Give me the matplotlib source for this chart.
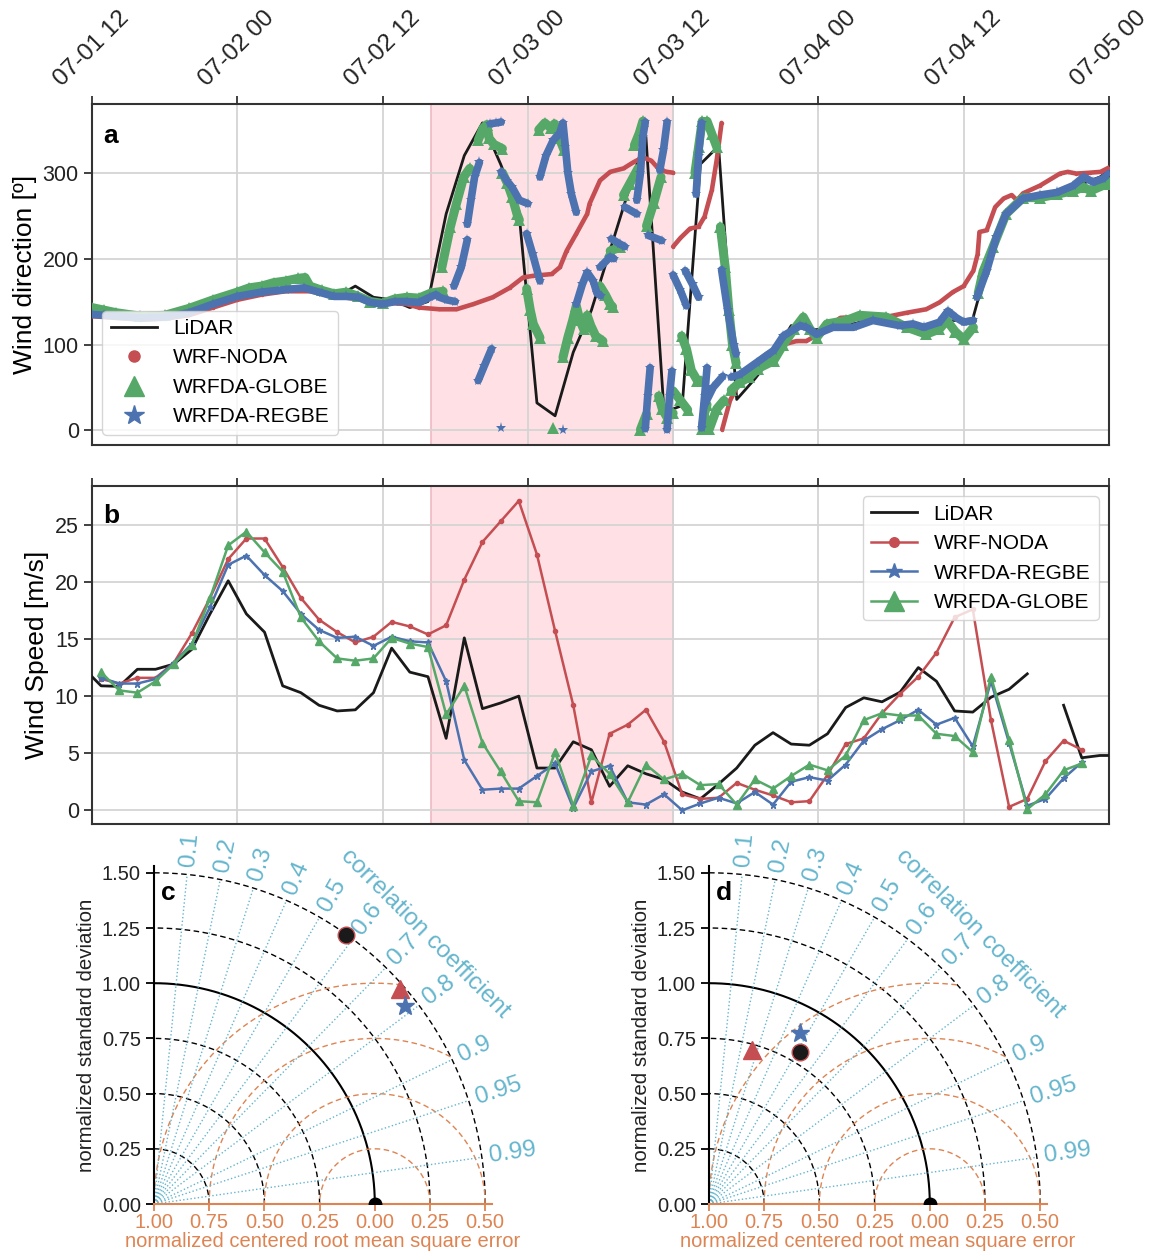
import numpy as np
import matplotlib
matplotlib.use('Agg')
import matplotlib.pyplot as plt
from matplotlib.lines import Line2D

plt.rcParams['font.family'] = ['Liberation Sans', 'DejaVu Sans']

nan = np.nan

# ---- time axis (hours since 07-01 12:00) ----
tick_hours = [0, 12, 24, 36, 48, 60, 72, 84]
tick_labels = ['07-01 12', '07-02 00', '07-02 12', '07-03 00',
               '07-03 12', '07-04 00', '07-04 12', '07-05 00']
shade_span = (28, 48)

# LiDAR / model sampling, every 1.5 h
obs_hours = np.arange(-0.75, 85, 1.5)
mod_hours = obs_hours[1:56]

# ---- wind direction (panel a) ----
lidar_dir = [140, 138, 133, 130, 130, 133, 138, 145, 152, 158, 162, 164, 165,
             160, 156, 168, 155, 152, 143, 150, 252, 320, 358, 310, 256, 32,
             17, 91, 140, 208, 276, 342, 21, 29, 310, 331, 36, 60, 87, 122,
             117, 118, 122, 127, 128, 121, 112, 124, 128, 130, 207, 256, 273,
             276, 278, 287, 295, 310]

noda_dir_hours = [0, 2, 4, 6, 8, 10, 12, 14, 16, 18, 20, 22, 24, 26, 27,
                  28.7, 30.1, 31.5, 33.1, 34.5, 35.6, 36.45, 37.97, 38.65, 39.2,
                  40.0, 40.9, 41.1, 41.96, 42.8, 43.9, 44.7, 45.5, 46.2, 46.9,
                  47.5, 48.0, nan,
                  48.0, 48.6, 49.4, 50.1, 50.6, 51.2, 51.6, 52.0, nan,
                  52.05, 52.7, 53.5, 54.35, 55.7, 57.1, 58.2, 59.0, 60.0, 61.0,
                  61.8, 63.0, 64.5, 65.9, 67.3, 68.9, 70.0, 71.1, 72.0, 72.8,
                  73.15, 73.3, 73.9, 74.6, 75.3, 75.96, 76.4, 76.9, 78.3, 79.95,
                  80.6, 81.3, 82.4, 83.3, 84.0]
noda_dir = [133, 131, 129, 130, 134, 143, 152, 158, 162, 162, 156, 153, 149, 147, 143,
            141, 141, 147, 155, 166, 178, 180, 182, 190, 209,
            229, 252, 264, 291, 301, 305, 312, 318, 314, 303,
            301, 300, nan,
            214, 224, 235, 237, 249, 280, 315, 358, nan,
            1, 35, 56, 74, 89, 100, 104, 104, 112, 122,
            131, 132, 130, 133, 137, 141, 149, 161, 168, 186,
            205, 231, 233, 260, 270, 274, 268, 276, 285, 299,
            301, 299, 300, 301, 306]

globe_dir_hours = [0, 1, 2, 4, 6, 8, 10, 12, 13, 14, 15, 16, 17, 17.6, 18, 19,
                   20, 21, 22, 23, 24, 25, 26, 27, 28, 29.0, nan,
                   28.9, 29.6, 30.1, 30.7, 31.2, nan,
                   31.9, 32.3, 32.6, 32.8, 33.2, 33.9, nan,
                   33.9, 34.3, 34.7, 35.1, 35.3, nan,
                   35.9, 36.2, 36.45, 37.0, nan,
                   38.05, nan,
                   36.9, 37.4, 37.9, 38.2, 38.6, 39.0, nan,
                   38.9, 39.3, 39.7, 40.0, 40.3, 40.6, 40.9, 41.2, 41.6, 42.2, nan,
                   41.96, 42.4, 42.8, 43.0, nan,
                   42.8, 43.6, nan,
                   43.9, 44.4, 45.1, nan,
                   44.8, 45.2, 45.5, nan,
                   45.3, 45.8, nan,
                   45.8, 46.4, 47.0, nan,
                   46.8, 47.1, 47.5, 48.0, nan,
                   48.0, 48.6, 49.2, nan,
                   48.7, 49.1, 49.5, 50.0, 50.3, nan,
                   49.8, 50.1, 50.4, nan,
                   50.4, 50.6, 50.8, nan,
                   50.8, 51.2, 51.6, nan,
                   51.0, 51.6, 52.2, nan,
                   51.9, 52.3, 52.6, 52.9, 53.2, nan,
                   52.8, 53.5, 54.3, 55.0, 56.3, 57.1, 58.0, 58.75, 59.3, 59.85,
                   60.7, 62.3, 63.4, 65.6, 67.3, 68.9, 70.0, 70.6, 71.3, 72.0,
                   72.8, nan,
                   73.2, 73.6, 74.4, 75.5, 76.9, 78.3, 79.7, 81.05, 81.9, 82.5,
                   83.8, 84.0]
globe_dir = [143, 140, 137, 133, 134, 142, 152, 161, 166, 168, 172, 174, 177, 178, 168, 163,
             159, 161, 156, 150, 148, 153, 155, 154, 160, 162, nan,
             190, 237, 264, 295, 305, nan,
             338, 352, 356, 340, 333, 328, nan,
             300, 288, 272, 252, 245, nan,
             165, 140, 124, 108, nan,
             3, nan,
             350, 358, 352, 357, 340, 326, nan,
             85, 108, 128, 145, 128, 118, 134, 122, 110, 104, nan,
             168, 158, 147, 144, nan,
             209, 213, nan,
             274, 287, 305, nan,
             332, 346, 360, nan,
             1, 19, nan,
             238, 265, 295, nan,
             40, 25, 15, 20, nan,
             46, 35, 24, nan,
             110, 95, 70, 58, 58, nan,
             300, 330, 360, nan,
             2, 20, 30, nan,
             360, 345, 330, nan,
             2, 25, 35, nan,
             237, 190, 140, 100, 78, nan,
             47, 56, 62, 72, 81, 100, 118, 132, 118, 108,
             124, 128, 134, 132, 120, 112, 118, 128, 115, 106,
             120, nan,
             160, 185, 213, 252, 271, 271, 275, 279, 283, 279,
             287, 289]

regbe_dir_hours = [0, 1, 2, 4, 6, 8, 10, 12, 14, 16, 17.5, 19, 20, 21, 22, 23,
                   24, 25, 26, 27, 27.9, 28.4, 28.7, 29.3, 30.0, nan,
                   29.9, 30.5, 31.0, nan,
                   31.0, 31.3, 31.6, 32.0, nan,
                   31.9, 32.4, 33.0, nan,
                   32.9, 33.4, 33.8, nan,
                   33.8, nan,
                   33.8, 34.3, 34.7, 35.3, 36.0, nan,
                   35.9, 36.4, 37.0, nan,
                   37.0, 37.5, 38.1, 38.6, 38.9, 39.1, 39.3, 39.6, 40.0, nan,
                   38.9, nan,
                   40.0, 40.5, 40.9, 41.4, 41.7, 42.0, nan,
                   41.96, 42.8, 43.1, nan,
                   42.9, 43.6, 44.0, nan,
                   44.0, 45.0, nan,
                   45.0, 45.3, 45.5, 45.7, nan,
                   45.7, 45.9, 46.1, nan,
                   45.95, 47.05, nan,
                   46.9, 47.2, 47.5, nan,
                   47.5, 47.7, 47.9, nan,
                   48.0, 48.6, 49.1, nan,
                   49.0, 49.6, 50.1, nan,
                   49.9, 50.1, 50.35, nan,
                   50.35, 50.6, 50.8, nan,
                   50.6, 51.3, 52.1, nan,
                   52.0, 52.5, 53.0, 53.2, nan,
                   52.8, 53.5, 54.9, 56.3, 57.1, 58.5, 59.0, 59.85, 61.2, 62.9,
                   64.5, 66.7, 67.8, 68.7, 70.0, 70.7, 71.4, 72.0, 72.8, nan,
                   73.1, 73.9, 74.7, 75.5, 76.9, 78.3, 79.7, 81.05, 81.9, 82.7,
                   83.5, 84.0]
regbe_dir = [135, 134, 133, 131, 132, 137, 147, 156, 161, 164, 166, 160, 156, 156, 155, 149,
             147, 150, 150, 149, 155, 158, 155, 152, 150, nan,
             168, 190, 222, nan,
             240, 268, 295, 312, nan,
             58, 75, 95, nan,
             357, 358, 359, nan,
             3, nan,
             301, 290, 283, 268, 264, nan,
             229, 205, 174, nan,
             295, 320, 338, 345, 358, 330, 300, 275, 254, nan,
             1, nan,
             147, 170, 184, 174, 160, 157, nan,
             190, 202, 200, nan,
             223, 217, 214, nan,
             260, 252, nan,
             268, 300, 342, 359, nan,
             2, 40, 73, nan,
             227, 221, nan,
             303, 326, 359, nan,
             1, 40, 69, nan,
             181, 163, 145, nan,
             186, 170, 155, nan,
             275, 320, 358, nan,
             3, 40, 73, nan,
             30, 50, 63, nan,
             187, 140, 100, 89, nan,
             62, 65, 79, 93, 110, 122, 120, 112, 120, 120,
             128, 122, 124, 120, 126, 139, 131, 126, 128, nan,
             155, 186, 225, 252, 270, 274, 277, 285, 295, 289,
             293, 299]

# ---- wind speed (panel b) ----
lidar_spd = [12.5, 10.9, 10.85, 12.35, 12.35, 12.8, 14.1, 17.2, 20.1, 17.2, 15.6,
             10.9, 10.3, 9.2, 8.7, 8.8, 10.3, 14.2, 12.1, 11.7, 6.3, 15.1, 8.9,
             9.4, 10.0, 3.7, 3.7, 6.0, 5.3, 2.1, 3.9, 3.2, 2.7, 1.6, 1.0, 2.3,
             3.7, 5.7, 6.8, 5.8, 5.7, 6.7, 9.0, 9.85, 9.5, 10.35, 12.5, 11.3,
             8.7, 8.6, 9.9, 10.6, 11.95, nan, 9.2, 4.6, 4.8, 4.8]
noda_spd = [11.5, 11.1, 11.6, 11.6, 12.9, 15.5, 18.6, 22.0, 23.8, 23.8, 21.3,
            18.6, 16.7, 15.6, 14.7, 15.2, 16.5, 16.1, 15.4, 16.2, 20.2, 23.5,
            25.3, 27.1, 22.4, 15.7, 9.2, 0.7, 6.7, 7.5, 8.8, 6.0, 1.4, 1.0, 1.1,
            2.4, 1.8, 1.3, 0.7, 0.8, 3.1, 5.8, 6.3, 8.5, 10.2, 11.7, 13.8, 16.9,
            17.6, 7.9, 0.3, 1.0, 4.3, 6.1, 5.3]
regbe_spd = [11.6, 11.1, 11.1, 11.5, 12.9, 14.6, 17.8, 21.5, 22.3, 20.6, 19.2,
             17.2, 15.8, 15.1, 15.2, 14.4, 15.2, 14.8, 14.7, 11.3, 4.4, 1.8, 1.9,
             1.9, 3.0, 4.1, 0.2, 3.4, 3.9, 0.7, 0.5, 1.4, 0.0, 0.6, 1.1, 0.6, 1.6,
             0.5, 2.5, 2.9, 2.6, 4.0, 6.1, 7.1, 7.9, 8.8, 7.5, 8.1, 5.6, 11.3,
             5.9, 0.4, 1.0, 2.8, 4.2]
globe_spd = [12.1, 10.5, 10.3, 11.3, 12.8, 14.5, 18.6, 23.2, 24.4, 22.6, 20.9,
             16.9, 14.8, 13.3, 13.1, 13.3, 15.1, 14.6, 14.3, 8.4, 10.9, 5.9, 3.4,
             0.8, 0.7, 5.1, 0.4, 4.8, 3.2, 0.7, 4.0, 2.7, 3.2, 2.2, 2.3, 0.5, 2.7,
             1.9, 3.0, 4.0, 3.5, 4.8, 7.9, 8.5, 8.3, 8.3, 6.7, 6.5, 5.1, 11.7,
             6.2, 0.1, 1.4, 3.5, 4.1]

# ---- Taylor diagrams (normalized std, correlation) ----
corr_ticks = [0.1, 0.2, 0.3, 0.4, 0.5, 0.6, 0.7, 0.8, 0.9, 0.95, 0.99]
std_rings = [0.25, 0.5, 0.75, 1.25, 1.5]
rmse_rings = [0.25, 0.5, 0.75, 1.0]
taylor_ticks = [0, 0.25, 0.5, 0.75, 1.0, 1.25, 1.5]
rmse_ticklabels = ['1.00', '0.75', '0.50', '0.25', '0.00', '0.25', '0.50']
c_std = [1.497, 1.48, 1.449]
c_corr = [0.581, 0.753, 0.785]
d_std = [0.800, 0.725, 0.876]
d_corr = [0.514, 0.270, 0.470]

BLACK = '#1a1a1a'
RED = '#C44E52'
GREEN = '#55A868'
BLUE = '#4C72B0'
ORANGE = '#DD8452'
CYAN = '#64B5CD'
SPINE = '#333333'
GRID = '#d4d4d4'

fig = plt.figure(figsize=(11.5, 12.55), dpi=100)
W, H = 1150.0, 1255.0
ax_a = fig.add_axes([92 / W, 1 - 445 / H, 1017 / W, 341 / H])
ax_b = fig.add_axes([92 / W, 1 - 824 / H, 1017 / W, 338 / H])


def style_timeaxis(ax, labels_on):
    ax.set_xlim(0, 84)
    ax.set_axisbelow(True)
    ax.grid(True, color=GRID, lw=1.3)
    ax.axvspan(*shade_span, facecolor='#ffe1e5', edgecolor='#efb9c1', lw=1.2, zorder=0)
    ax.set_xticks(tick_hours)
    ax.xaxis.set_ticks_position('top')
    if labels_on:
        ax.set_xticklabels(tick_labels, rotation=45, ha='center', fontsize=17.5)
    else:
        ax.set_xticklabels([])
    ax.tick_params(axis='both', direction='out', length=6, width=1.3,
                   color=SPINE, labelcolor='#222222')
    ax.tick_params(axis='y', labelsize=15.5)
    for s in ax.spines.values():
        s.set_color(SPINE)
        s.set_linewidth(1.5)


# panel a
style_timeaxis(ax_a, True)
ax_a.plot(obs_hours, lidar_dir, color=BLACK, lw=2, zorder=3)
ax_a.plot(noda_dir_hours, noda_dir, color=RED, lw=3.3, marker='o', ms=2.5,
          mew=0, solid_capstyle='round', zorder=4)
ax_a.plot(globe_dir_hours, globe_dir, color=GREEN, lw=6.5, marker='^', ms=9,
          mew=0, solid_capstyle='round', zorder=5)
ax_a.plot(regbe_dir_hours, regbe_dir, color=BLUE, lw=5.5, marker='*', ms=8,
          mew=0, solid_capstyle='round', zorder=6)
ax_a.set_ylim(-17, 380)
ax_a.set_yticks([0, 100, 200, 300])
ax_a.set_ylabel('Wind direction [º]', fontsize=19)
ax_a.text(0.011, 0.905, 'a', transform=ax_a.transAxes, fontsize=19,
          fontweight='bold', va='center', ha='left', zorder=10)
handles_a = [Line2D([], [], color=BLACK, lw=2),
             Line2D([], [], ls='none', marker='o', color=RED, ms=8),
             Line2D([], [], ls='none', marker='^', color=GREEN, ms=14),
             Line2D([], [], ls='none', marker='*', color=BLUE, ms=15)]
leg = ax_a.legend(handles_a, ['LiDAR', 'WRF-NODA', 'WRFDA-GLOBE', 'WRFDA-REGBE'],
                  loc='lower left', fontsize=15, handlelength=2.2)
leg.set_zorder(20)

# panel b
style_timeaxis(ax_b, False)
ax_b.plot(obs_hours, lidar_spd, color=BLACK, lw=2, label='LiDAR', zorder=3)
ax_b.plot(mod_hours, noda_spd, color=RED, lw=1.8, marker='o', ms=3, label='WRF-NODA', zorder=4)
ax_b.plot(mod_hours, regbe_spd, color=BLUE, lw=1.8, marker='*', ms=5, label='WRFDA-REGBE', zorder=5)
ax_b.plot(mod_hours, globe_spd, color=GREEN, lw=1.8, marker='^', ms=6, label='WRFDA-GLOBE', zorder=6)
ax_b.set_ylim(-1.2, 28.4)
ax_b.set_yticks([0, 5, 10, 15, 20, 25])
ax_b.set_ylabel('Wind Speed [m/s]', fontsize=19)
ax_b.text(0.011, 0.912, 'b', transform=ax_b.transAxes, fontsize=19,
          fontweight='bold', va='center', ha='left', zorder=10)
ax_b.legend(loc='upper right', fontsize=15, markerscale=2.3, handlelength=2.2)


def taylor(ax, std, corr, letter):
    smax = 1.53
    ax.set_xlim(0, smax)
    ax.set_ylim(0, smax)
    th = np.linspace(0, np.pi / 2, 300)
    for r in std_rings:
        ax.plot(r * np.cos(th), r * np.sin(th), color='k', lw=1, ls=(0, (4, 2.5)))
    ax.plot(np.cos(th), np.sin(th), color='k', lw=1.5)
    tt = np.linspace(0, np.pi, 500)
    for r in rmse_rings:
        x = 1 + r * np.cos(tt)
        y = r * np.sin(tt)
        inside = x ** 2 + y ** 2 <= 1.5 ** 2
        ax.plot(np.where(inside, x, nan), np.where(inside, y, nan),
                color=ORANGE, lw=1, ls=(0, (4, 2.5)))
    for c in corr_ticks:
        a = np.arccos(c)
        ax.plot([0, 1.5 * np.cos(a)], [0, 1.5 * np.sin(a)], color=CYAN, lw=1, ls=':')
        ax.text(1.535 * np.cos(a), 1.535 * np.sin(a), str(c), rotation=np.degrees(a),
                rotation_mode='anchor', ha='left', va='center', color=CYAN, fontsize=17.5)
    ax.text(1.735 * np.cos(np.pi / 4), 1.735 * np.sin(np.pi / 4), 'correlation coefficient',
            rotation=-45, rotation_mode='anchor', ha='center', va='center',
            color=CYAN, fontsize=17.5)
    # reference point
    ax.plot(1, 0, 'o', color='k', ms=9, zorder=4)
    ax.plot(std[0] * corr[0], std[0] * np.sqrt(1 - corr[0] ** 2), 'o', ms=12,
            mfc=BLACK, mec=RED, mew=1, zorder=6, clip_on=False)
    ax.plot(std[1] * corr[1], std[1] * np.sqrt(1 - corr[1] ** 2), '^', ms=13,
            color=RED, zorder=6, clip_on=False)
    ax.plot(std[2] * corr[2], std[2] * np.sqrt(1 - corr[2] ** 2), '*', ms=14,
            color=BLUE, zorder=6, clip_on=False)
    ax.set_xticks(taylor_ticks)
    ax.set_xticklabels(rmse_ticklabels)
    ax.set_yticks(taylor_ticks)
    ax.set_yticklabels(['%.2f' % t for t in taylor_ticks])
    ax.spines['top'].set_visible(False)
    ax.spines['right'].set_visible(False)
    ax.spines['left'].set_color('k')
    ax.spines['left'].set_linewidth(1.5)
    ax.spines['bottom'].set_color(ORANGE)
    ax.spines['bottom'].set_linewidth(1.5)
    ax.tick_params(axis='y', direction='out', length=6, width=1.3, color='k',
                   labelsize=14.5, labelcolor='#222222')
    ax.tick_params(axis='x', direction='out', length=5, width=1.3, color=ORANGE,
                   labelsize=14.5, labelcolor=ORANGE, pad=1.5)
    ax.set_ylabel('normalized standard deviation', fontsize=14.8, color='#222222')
    ax.set_xlabel('normalized centered root mean square error', fontsize=14.5,
                  color=ORANGE, labelpad=0)
    ax.text(0.03, 1.41, letter, fontsize=19, fontweight='bold', va='center', ha='left')


side = 1.53 * 220.8
ax_c = fig.add_axes([154 / W, 1 - 1204 / H, side / W, side / H])
ax_d = fig.add_axes([709 / W, 1 - 1204 / H, side / W, side / H])
taylor(ax_c, c_std, c_corr, 'c')
taylor(ax_d, d_std, d_corr, 'd')

fig.savefig('out.png', dpi=100)
